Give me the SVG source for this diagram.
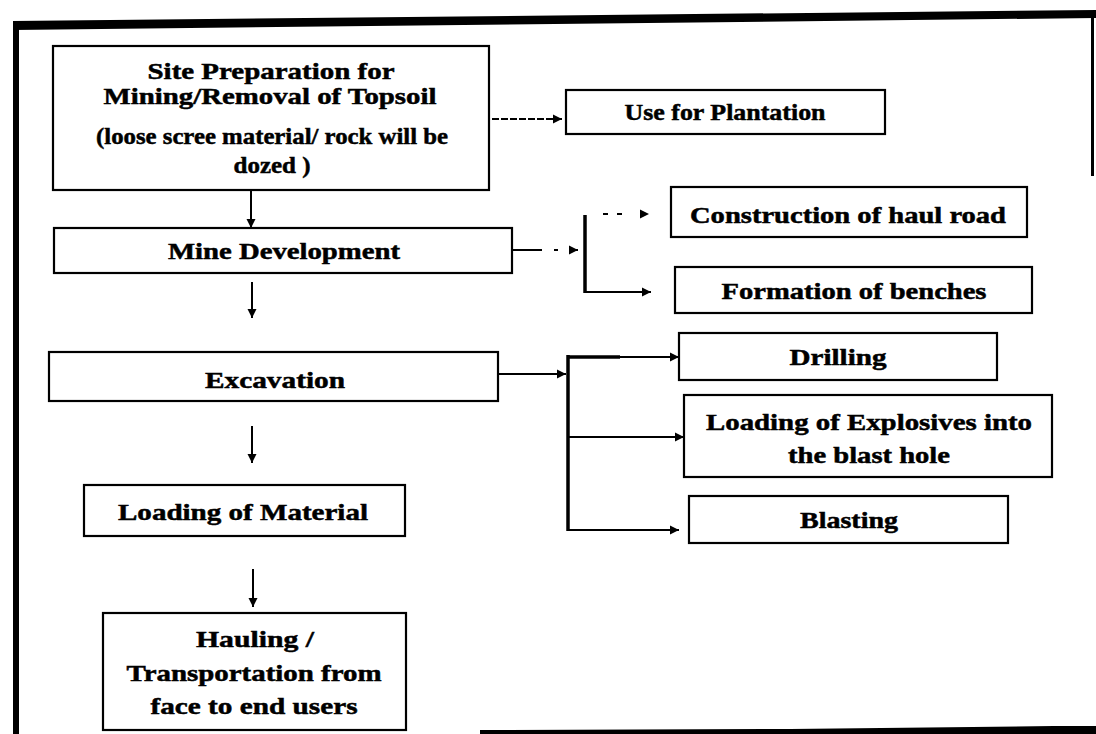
<svg xmlns="http://www.w3.org/2000/svg" width="1096" height="734" viewBox="0 0 1096 734">
<style>
  .box { fill: #ffffff; stroke: #000000; stroke-width: 2.2; }
  .lbl { font-family: "Liberation Serif", "Times New Roman", serif; font-weight: bold; font-size: 24px; fill: #000000; stroke: #000000; stroke-width: 0.5; text-anchor: middle; }
  .con { fill: none; stroke: #000000; stroke-width: 2; }
  .bar { fill: none; stroke: #000000; stroke-width: 3.5; }
  .frame { fill: #000000; stroke: none; }
</style>
<defs>
  <marker id="ah" markerUnits="userSpaceOnUse" markerWidth="10" markerHeight="10" refX="9" refY="5" orient="auto">
    <path d="M0,0.5 L9,5 L0,9.5 z" fill="#000000"/>
  </marker>
</defs>
<rect x="0" y="0" width="1096" height="734" fill="#ffffff"/>

<g id="frame">
  <polygon class="frame" points="13,21 1096,10 1096,18 13,30"/>
  <rect class="frame" x="13" y="21" width="6" height="713"/>
  <rect class="frame" x="1091" y="12" width="3" height="164"/>
  <polygon class="frame" points="480,730 790,729 1054,726 1096,726 1096,734 480,734"/>
</g>

<g id="connectors">
  <path class="con" d="M251,191 V228" marker-end="url(#ah)"/>
  <path class="con" d="M492,119 H562" stroke-dasharray="7 2" marker-end="url(#ah)"/>
  <path class="con" d="M512,250 H578" stroke-dasharray="30 12 4 12 100" marker-end="url(#ah)"/>
  <path class="bar" d="M585,215 V293"/>
  <path class="con" d="M585,214 H649" stroke-dasharray="0 18 5 9 5 100" marker-end="url(#ah)"/>
  <path class="con" d="M585,292 H651" marker-end="url(#ah)"/>
  <path class="con" d="M252,282 V318" marker-end="url(#ah)"/>
  <path class="con" d="M498,374 H566" marker-end="url(#ah)"/>
  <path class="bar" d="M568,355 V531"/>
  <path class="bar" d="M568,357 H620"/>
  <path class="con" d="M568,357 H679" marker-end="url(#ah)"/>
  <path class="con" d="M568,437 H684" marker-end="url(#ah)"/>
  <path class="con" d="M568,530 H679" marker-end="url(#ah)"/>
  <path class="con" d="M252,426 V463" marker-end="url(#ah)"/>
  <path class="con" d="M253,569 V607" marker-end="url(#ah)"/>
</g>

<g id="site-preparation">
  <rect class="box" x="53" y="46" width="436" height="144"/>
  <text class="lbl" x="271" y="79" textLength="247" lengthAdjust="spacingAndGlyphs">Site Preparation for</text>
  <text class="lbl" x="270" y="104" textLength="333" lengthAdjust="spacingAndGlyphs">Mining/Removal of Topsoil</text>
  <text class="lbl" x="272" y="144" textLength="352" lengthAdjust="spacingAndGlyphs">(loose scree material/ rock will be</text>
  <text class="lbl" x="272" y="173" textLength="77" lengthAdjust="spacingAndGlyphs">dozed )</text>
</g>

<g id="use-for-plantation">
  <rect class="box" x="566" y="90" width="319" height="44"/>
  <text class="lbl" x="725" y="120" textLength="201" lengthAdjust="spacingAndGlyphs">Use for Plantation</text>
</g>

<g id="mine-development">
  <rect class="box" x="54" y="228" width="458" height="45"/>
  <text class="lbl" x="284" y="259" textLength="232" lengthAdjust="spacingAndGlyphs">Mine Development</text>
</g>

<g id="construction-haul-road">
  <rect class="box" x="671" y="187" width="356" height="50"/>
  <text class="lbl" x="848" y="223" textLength="316" lengthAdjust="spacingAndGlyphs">Construction of haul road</text>
</g>

<g id="formation-benches">
  <rect class="box" x="675" y="267" width="357" height="46"/>
  <text class="lbl" x="854" y="299" textLength="265" lengthAdjust="spacingAndGlyphs">Formation of benches</text>
</g>

<g id="excavation">
  <rect class="box" x="49" y="352" width="449" height="49"/>
  <text class="lbl" x="275" y="388" textLength="140" lengthAdjust="spacingAndGlyphs">Excavation</text>
</g>

<g id="drilling">
  <rect class="box" x="679" y="333" width="318" height="47"/>
  <text class="lbl" x="838" y="365" textLength="97" lengthAdjust="spacingAndGlyphs">Drilling</text>
</g>

<g id="loading-explosives">
  <rect class="box" x="684" y="395" width="368" height="82"/>
  <text class="lbl" x="869" y="430" textLength="326" lengthAdjust="spacingAndGlyphs">Loading of Explosives into</text>
  <text class="lbl" x="869" y="463" textLength="162" lengthAdjust="spacingAndGlyphs">the blast hole</text>
</g>

<g id="blasting">
  <rect class="box" x="689" y="496" width="319" height="47"/>
  <text class="lbl" x="849" y="528" textLength="98" lengthAdjust="spacingAndGlyphs">Blasting</text>
</g>

<g id="loading-material">
  <rect class="box" x="84" y="485" width="321" height="51"/>
  <text class="lbl" x="243" y="520" textLength="250" lengthAdjust="spacingAndGlyphs">Loading of Material</text>
</g>

<g id="hauling">
  <rect class="box" x="103" y="613" width="303" height="117"/>
  <text class="lbl" x="255" y="647" textLength="118" lengthAdjust="spacingAndGlyphs">Hauling /</text>
  <text class="lbl" x="254" y="681" textLength="255" lengthAdjust="spacingAndGlyphs">Transportation from</text>
  <text class="lbl" x="254" y="714" textLength="207" lengthAdjust="spacingAndGlyphs">face to end users</text>
</g>
</svg>
